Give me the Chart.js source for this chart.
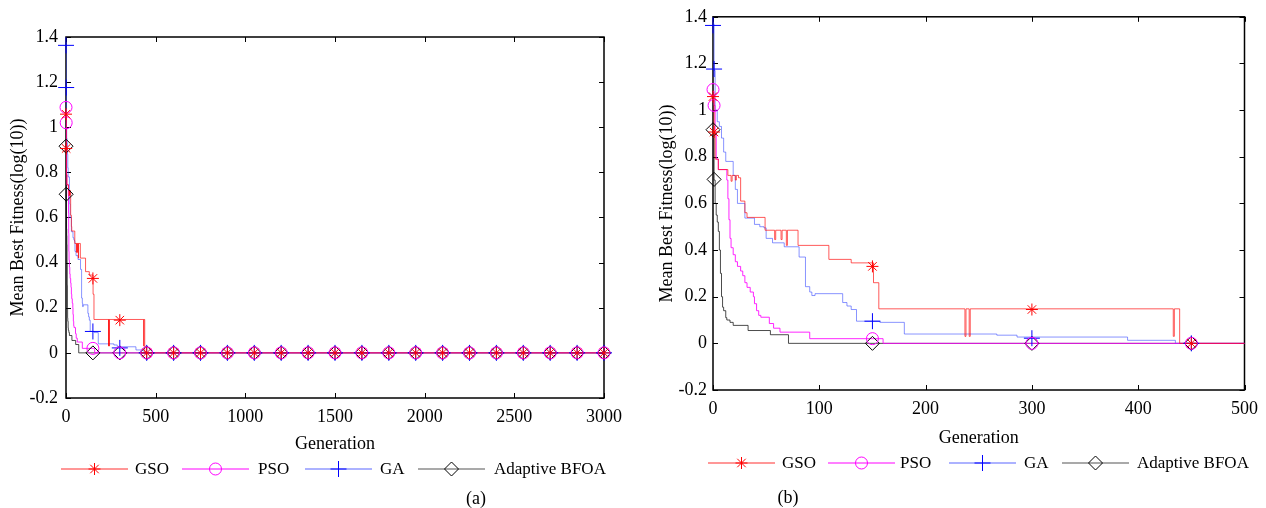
<!DOCTYPE html>
<html>
<head>
<meta charset="utf-8">
<script src="https://cdn.jsdelivr.net/npm/chart.js@4.4.0/dist/chart.umd.min.js"></script>
<style>
  html, body { margin: 0; padding: 0; background: #fff; }
  .panel { position: absolute; top: 0; width: 630px; height: 508px; }
  #panelA { left: 0; }
  #panelB { left: 636px; }
</style>
</head>
<body>
<div class="panel" id="panelA"><canvas id="chartA" width="630" height="508"></canvas></div>
<div class="panel" id="panelB"><canvas id="chartB" width="630" height="508"></canvas></div>
<script>
// series (generation where the value changes, value from there on)
const seriesNames = ['GSO', 'PSO', 'GA', 'Adaptive BFOA'];

const gsoGen = [0, 1, 2, 5, 14, 17, 18, 21, 22, 24, 26, 30, 32, 49, 58, 59, 64, 65, 69, 70, 80, 109, 130, 151, 156, 237, 238, 241, 242, 433, 434, 439, 3000];
const gsoVal = [1.05, 0.90, 0.79, 0.745, 0.72, 0.695, 0.72, 0.70, 0.72, 0.71, 0.61, 0.56, 0.54, 0.485, 0.445, 0.485, 0.445, 0.485, 0.42, 0.485, 0.42, 0.36, 0.345, 0.26, 0.148, 0.03, 0.148, 0.03, 0.148, 0.03, 0.148, 0, 0];

const psoGen = [0, 1, 2, 3, 5, 13, 14, 15, 16, 17, 19, 21, 23, 26, 28, 30, 32, 35, 38, 39, 41, 43, 45, 53, 57, 63, 91, 160, 3000];
const psoVal = [1.08, 1.02, 0.90, 0.79, 0.745, 0.70, 0.62, 0.53, 0.45, 0.41, 0.38, 0.35, 0.33, 0.31, 0.29, 0.26, 0.24, 0.22, 0.20, 0.17, 0.14, 0.12, 0.112, 0.085, 0.065, 0.048, 0.02, 0, 0];

const gaGen = [0, 1, 2, 4, 6, 8, 10, 12, 19, 21, 23, 30, 39, 44, 48, 50, 56, 67, 81, 87, 91, 93, 96, 122, 126, 130, 135, 157, 180, 267, 286, 390, 435, 3000];
const gaVal = [1.37, 1.17, 1.0, 0.95, 0.93, 0.88, 0.82, 0.78, 0.72, 0.66, 0.60, 0.537, 0.51, 0.50, 0.495, 0.45, 0.431, 0.414, 0.37, 0.243, 0.22, 0.205, 0.213, 0.175, 0.16, 0.145, 0.095, 0.09, 0.04, 0.035, 0.027, 0.013, 0, 0];

const bfoaGen = [0, 1, 2, 3, 4, 5, 6, 7, 8, 9, 10, 12, 13, 16, 19, 33, 54, 71, 3000];
const bfoaVal = [0.91, 0.70, 0.60, 0.55, 0.52, 0.48, 0.40, 0.30, 0.20, 0.155, 0.14, 0.11, 0.10, 0.09, 0.077, 0.055, 0.037, 0, 0];

// marker positions (every 150 generations, plus the first two)
const markGen = [0, 1, 150, 300, 450, 600, 750, 900, 1050, 1200, 1350, 1500, 1650, 1800, 1950, 2100, 2250, 2400, 2550, 2700, 2850, 3000];
const gsoMark = [1.058, 0.906, 0.33, 0.145, 0, 0, 0, 0, 0, 0, 0, 0, 0, 0, 0, 0, 0, 0, 0, 0, 0, 0];
const psoMark = [1.088, 1.02, 0.02, 0, 0, 0, 0, 0, 0, 0, 0, 0, 0, 0, 0, 0, 0, 0, 0, 0, 0, 0];
const gaMark = [1.363, 1.176, 0.095, 0.022, 0, 0, 0, 0, 0, 0, 0, 0, 0, 0, 0, 0, 0, 0, 0, 0, 0, 0];
const bfoaMark = [0.916, 0.703, 0, 0, 0, 0, 0, 0, 0, 0, 0, 0, 0, 0, 0, 0, 0, 0, 0, 0, 0, 0];

const yTicks = [-0.2, 0, 0.2, 0.4, 0.6, 0.8, 1, 1.2, 1.4];

const series = [
  { name: seriesNames[0], gen: gsoGen, val: gsoVal, mark: gsoMark, line: 'rgba(255,0,0,0.65)', legendLine: '#ff3030', color: '#ff0000', style: 'star', radius: 6 },
  { name: seriesNames[1], gen: psoGen, val: psoVal, mark: psoMark, line: 'rgba(255,0,255,0.85)', legendLine: '#ff00ff', color: '#ff00ff', style: 'circle', radius: 6 },
  { name: seriesNames[2], gen: gaGen, val: gaVal, mark: gaMark, line: 'rgba(40,60,255,0.55)', legendLine: '#5a66ff', color: '#0000ff', style: 'cross', radius: 8 },
  { name: seriesNames[3], gen: bfoaGen, val: bfoaVal, mark: bfoaMark, line: 'rgba(0,0,0,0.7)', legendLine: '#555555', color: '#000000', style: 'rectRot', radius: 7 }
];

const FONT = '"Liberation Serif", "Times New Roman", serif';

// box with inward ticks like the MATLAB axes
const boxPlugin = {
  id: 'matlabBox',
  beforeDatasetsDraw(chart) {
    const { ctx, chartArea: a, scales } = chart;
    ctx.save();
    ctx.strokeStyle = '#000';
    ctx.lineWidth = 1.5;
    ctx.strokeRect(a.left, a.top, a.right - a.left, a.bottom - a.top);
    ctx.lineWidth = 1;
    ctx.beginPath();
    scales.x.ticks.forEach(t => {
      const px = Math.round(scales.x.getPixelForValue(t.value)) + 0.5;
      ctx.moveTo(px, a.bottom); ctx.lineTo(px, a.bottom - 5);
      ctx.moveTo(px, a.top); ctx.lineTo(px, a.top + 5);
    });
    scales.y.ticks.forEach(t => {
      const py = Math.round(scales.y.getPixelForValue(t.value)) + 0.5;
      ctx.moveTo(a.left, py); ctx.lineTo(a.left + 5, py);
      ctx.moveTo(a.right, py); ctx.lineTo(a.right - 5, py);
    });
    ctx.stroke();
    ctx.restore();
  }
};

// legend: line with marker in the middle, then the name; plus the (a)/(b) caption
const legendPlugin = {
  id: 'lineLegend',
  afterDraw(chart, args, opts) {
    const ctx = chart.ctx;
    ctx.save();
    ctx.textBaseline = 'middle';
    series.forEach((s, i) => {
      const x0 = opts.lineX[i];
      ctx.strokeStyle = s.legendLine;
      ctx.lineWidth = 1.2;
      ctx.beginPath();
      ctx.moveTo(x0, opts.y);
      ctx.lineTo(x0 + opts.lineLen, opts.y);
      ctx.stroke();
      ctx.lineWidth = 1;
      ctx.strokeStyle = s.color;
      ctx.fillStyle = 'rgba(0,0,0,0)';
      Chart.helpers.drawPoint(ctx, { pointStyle: s.style, radius: s.radius, borderWidth: 1, rotation: 0 }, x0 + opts.lineLen / 2, opts.y);
      ctx.fillStyle = '#000';
      ctx.font = '17px ' + FONT;
      ctx.textAlign = 'left';
      ctx.fillText(s.name, opts.textX[i], opts.y + 1);
    });
    ctx.font = '18px ' + FONT;
    ctx.textAlign = 'center';
    ctx.fillText(opts.caption, opts.captionX, opts.captionY);
    ctx.restore();
  }
};

function makeChart(id, c) {
  const datasets = [];
  series.forEach(s => {
    datasets.push({
      label: s.name + ' markers',
      data: markGen.map((g, i) => ({ x: g, y: s.mark[i] })).filter(p => p.x <= c.xMax),
      showLine: false,
      pointStyle: s.style,
      pointRadius: s.radius,
      pointBorderColor: s.color,
      pointBackgroundColor: 'rgba(0,0,0,0)',
      pointBorderWidth: 1,
      clip: false,
      order: 0
    });
  });
  series.forEach(s => {
    datasets.push({
      label: s.name,
      data: s.gen.map((g, i) => ({ x: g, y: s.val[i] })),
      showLine: true,
      stepped: 'before',
      borderColor: s.line,
      borderWidth: 1,
      pointRadius: 0,
      fill: false,
      order: 1
    });
  });

  return new Chart(document.getElementById(id), {
    type: 'scatter',
    data: { datasets },
    options: {
      responsive: false,
      animation: false,
      events: [],
      layout: { padding: { left: 0, top: c.top, right: c.right, bottom: c.bottom } },
      scales: {
        x: {
          type: 'linear',
          min: 0,
          max: c.xMax,
          grid: { display: false, drawTicks: false },
          border: { display: false },
          ticks: { stepSize: c.xStep, padding: c.xTickPad, color: '#000', font: { family: FONT, size: 18 }, maxRotation: 0, callback: v => String(v) },
          title: { display: true, text: 'Generation', color: '#000', font: { family: FONT, size: 18 }, padding: { top: 0, bottom: c.xTitlePad } },
          afterFit: s => { s.height = 60; }
        },
        y: {
          type: 'linear',
          min: -0.2,
          max: 1.4,
          grid: { display: false, drawTicks: false },
          border: { display: false },
          afterBuildTicks: s => { s.ticks = yTicks.map(v => ({ value: v })); },
          ticks: { padding: c.yTickPad, color: '#000', font: { family: FONT, size: 18 }, callback: v => String(+(+v).toFixed(1)) },
          title: { display: true, text: 'Mean Best Fitness(log(10))', color: '#000', font: { family: FONT, size: 18 }, padding: { top: c.yTitlePad, bottom: 0 } },
          afterFit: s => { s.width = c.left; }
        }
      },
      plugins: {
        legend: { display: false },
        tooltip: { enabled: false },
        lineLegend: c.legend
      }
    },
    plugins: [boxPlugin, legendPlugin]
  });
}

makeChart('chartA', {
  xMax: 3000, xStep: 500,
  left: 66, top: 37, right: 23, bottom: 50,
  xTickPad: 8, xTitlePad: 3, yTickPad: 8, yTitlePad: 7,
  legend: { y: 469, lineLen: 67, lineX: [61, 182, 305, 418], textX: [135, 258, 380, 494], caption: '(a)', captionX: 476, captionY: 499 }
});

makeChart('chartB', {
  xMax: 500, xStep: 100,
  left: 77, top: 14, right: 19, bottom: 58,
  xTickPad: 8, xTitlePad: 1, yTickPad: 6, yTitlePad: 20,
  legend: { y: 463, lineLen: 67, lineX: [72, 192, 313, 426], textX: [146, 264, 388, 501], caption: '(b)', captionX: 152, captionY: 498 }
});
</script>
</body>
</html>
